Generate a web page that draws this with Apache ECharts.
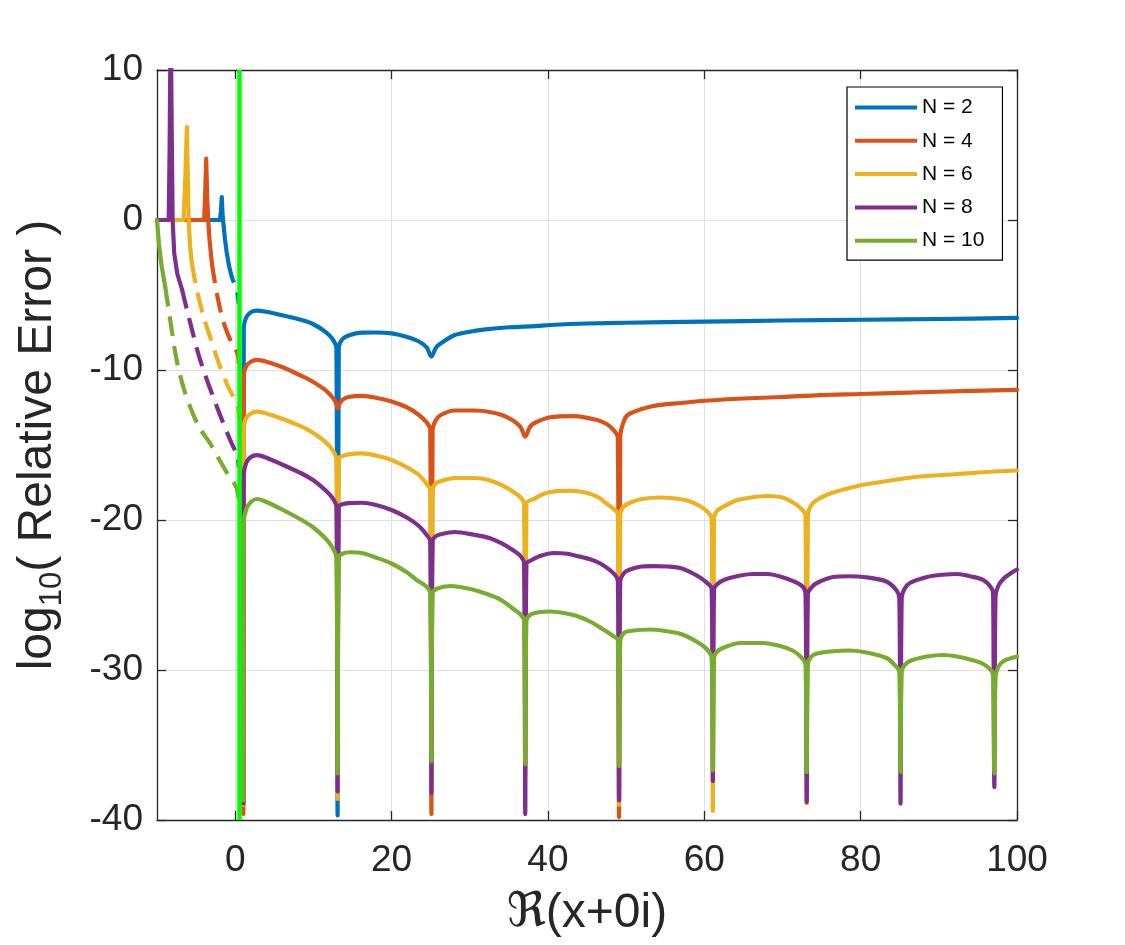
<!DOCTYPE html>
<html><head><meta charset="utf-8">
<script src="https://cdn.jsdelivr.net/npm/echarts@6/dist/echarts.min.js"></script>
<style>html,body{margin:0;padding:0;background:#fff}#c{width:1125px;height:945px}</style>
</head><body><div id="c"></div>
<script>
const seriesNames = ['N = 2', 'N = 4', 'N = 6', 'N = 8', 'N = 10'];
const seriesColors = ['#0072BD', '#D95319', '#EDB120', '#7E2F8E', '#77AC30'];
const xTickValues = [0, 20, 40, 60, 80, 100];
const xMin = -10, xMax = 100, yMin = -40, yMax = 10, yStep = 10;
const xlinePos = 0.55;

// N = 2
const n2Head = [[-10,0],[-1.95,0],[-1.82,0.6],[-1.71,1.53],[-1.62,0.4],[-1.55,0],[-1.3,-1.3],[-1.1,-2.1],[-0.85,-2.89]];
const n2Dash = [[-0.85,-2.89],[-0.43,-3.8],[0.0,-4.4],[0.3,-4.9],[0.45,-5.6]];
const n2Tail = [[1.05,-39.0],[1.1,-7.2],[1.4,-6.5],[2.0,-6.15],[2.8,-6.04],[4.0,-6.12],[6.0,-6.35],[8.5,-6.67],[10.0,-6.95],[11.5,-7.44],[12.4,-7.9],[12.95,-8.5],[13.1,-39.7],[13.25,-8.5],[13.7,-7.95],[14.5,-7.7],[16.2,-7.51],[18.0,-7.5],[20.0,-7.56],[22.0,-7.8],[23.5,-8.1],[24.5,-8.5],[25.1,-9.1],[25.7,-8.5],[26.5,-8.15],[28.1,-7.67],[30.0,-7.45],[32.0,-7.29],[35.0,-7.15],[38.4,-7.07],[40.3,-7.0],[45,-6.9],[50,-6.85],[60.1,-6.78],[70,-6.7],[80,-6.65],[90,-6.6],[100,-6.53]];

// N = 4
const n4Head = [[-10,0],[-3.97,0],[-3.85,1.5],[-3.71,4.1],[-3.58,1.5],[-3.45,0],[-3.28,-1.33],[-2.98,-2.89]];
const n4Dash = [[-2.98,-2.89],[-2.35,-4.89],[-1.5,-6.8],[-0.43,-8.22],[0.3,-8.9],[0.45,-9.6]];
const n4Tail = [[1.05,-39.6],[1.1,-10.4],[1.4,-9.75],[2.0,-9.45],[2.8,-9.33],[4.0,-9.45],[6.0,-9.8],[8.5,-10.4],[10.0,-10.8],[11.5,-11.33],[12.4,-11.8],[12.9,-12.2],[13.1,-12.55],[13.4,-12.2],[13.8,-11.95],[14.5,-11.8],[16.2,-11.73],[18,-11.85],[20,-12.1],[22,-12.5],[23.5,-13.0],[24.5,-13.5],[24.95,-14.0],[25.1,-39.6],[25.25,-14.0],[25.6,-13.4],[26.3,-13.0],[28.1,-12.7],[30.7,-12.7],[32.5,-12.8],[34.1,-13.0],[35.5,-13.35],[36.5,-13.8],[37.1,-14.44],[37.7,-13.8],[38.4,-13.5],[40.3,-13.15],[43.3,-13.07],[46.3,-13.33],[47.5,-13.6],[48.4,-14.0],[48.95,-14.5],[49.1,-39.8],[49.25,-14.5],[49.8,-13.3],[50.5,-12.9],[53.5,-12.4],[57,-12.2],[60.1,-12.05],[65,-11.9],[70,-11.8],[74.8,-11.67],[80,-11.6],[90,-11.45],[100,-11.33]];

// N = 6
const n6Head = [[-10,0],[-6.6,0],[-6.4,2.5],[-6.18,6.2],[-6.05,2.5],[-5.95,0],[-5.76,-1.78],[-5.54,-2.89]];
const n6Dash = [[-5.54,-2.89],[-4.9,-4.67],[-4.05,-6.44],[-3.2,-7.8],[-2.2,-9.4],[-1.0,-11.0],[0.3,-12.4],[0.45,-13.2]];
const n6Tail = [[1.05,-39.0],[1.1,-13.9],[1.4,-13.2],[2.0,-12.9],[2.8,-12.78],[4.0,-12.9],[6.0,-13.25],[8.5,-13.78],[10.0,-14.2],[11.5,-14.78],[12.4,-15.3],[12.95,-15.9],[13.1,-38.6],[13.25,-15.9],[13.7,-15.75],[14.5,-15.62],[16.2,-15.56],[18,-15.7],[20,-16.0],[22,-16.5],[23.5,-17.0],[24.5,-17.6],[24.95,-18.0],[25.1,-37.5],[25.25,-18.0],[25.6,-17.6],[26.3,-17.4],[28.1,-17.2],[30.7,-17.2],[32.5,-17.35],[34.1,-17.67],[35.5,-18.1],[36.5,-18.5],[36.95,-18.9],[37.1,-37.0],[37.25,-18.9],[38.2,-18.6],[39.5,-18.25],[41.1,-18.07],[43,-18.05],[45,-18.2],[46.5,-18.5],[47.5,-18.9],[48.5,-19.3],[48.95,-19.6],[49.1,-39.0],[49.25,-19.6],[49.7,-19.1],[50.5,-18.85],[52,-18.6],[54.4,-18.5],[56,-18.55],[57.8,-18.7],[59.2,-19.0],[60.3,-19.4],[60.95,-19.9],[61.1,-39.4],[61.25,-19.9],[61.6,-19.4],[62.5,-19.1],[64.1,-18.7],[66,-18.5],[68,-18.4],[70,-18.5],[71.4,-18.85],[72.5,-19.3],[72.95,-19.7],[73.1,-38.9],[73.25,-19.7],[73.7,-19.0],[74.4,-18.67],[76,-18.25],[78,-17.95],[80.2,-17.67],[84,-17.35],[87.6,-17.1],[92,-16.95],[96,-16.8],[100,-16.7]];

// N = 8
const n8Head = [[-10,0],[-8.5,0],[-8.38,5],[-8.25,14],[-8.1,5],[-8.0,0],[-7.8,-2.2],[-7.4,-3.6],[-6.82,-4.6]];
const n8Dash = [[-6.82,-4.6],[-5.97,-6.4],[-4.48,-9.33],[-2.35,-12.44],[-0.64,-14.67],[0.3,-15.78],[0.45,-16.5]];
const n8Tail = [[1.05,-38.9],[1.1,-17.0],[1.4,-16.2],[2.0,-15.8],[2.8,-15.67],[4.0,-15.85],[6.0,-16.3],[8.5,-16.9],[10.0,-17.35],[11.5,-18.0],[12.4,-18.5],[12.95,-19.1],[13.1,-38.1],[13.25,-19.1],[13.7,-18.95],[14.5,-18.88],[16.2,-18.85],[18,-19.0],[20,-19.33],[22,-19.85],[23.5,-20.4],[24.5,-21.0],[24.95,-21.4],[25.1,-38.2],[25.25,-21.4],[25.6,-21.1],[26.3,-20.95],[28.1,-20.8],[30.7,-21.0],[32.5,-21.2],[34.1,-21.56],[35.5,-22.0],[36.5,-22.4],[36.95,-22.9],[37.1,-39.6],[37.25,-22.9],[37.8,-22.7],[39,-22.4],[40.7,-22.2],[42.5,-22.25],[43.7,-22.4],[45.3,-22.6],[46.7,-22.9],[48.4,-23.56],[48.95,-24.1],[49.1,-38.7],[49.25,-24.1],[49.8,-23.5],[50.5,-23.3],[52,-23.1],[53.5,-23.07],[55.3,-23.1],[56.9,-23.2],[58.5,-23.55],[59.9,-24.0],[60.95,-24.6],[61.1,-37.4],[61.25,-24.6],[61.6,-24.3],[62.5,-24.0],[64.6,-23.7],[66.3,-23.6],[68,-23.6],[70.5,-23.9],[72.5,-24.4],[72.95,-24.9],[73.1,-38.8],[73.25,-24.9],[73.7,-24.5],[74.4,-24.2],[76.5,-23.8],[78.5,-23.75],[80.4,-23.8],[83.3,-24.1],[84.6,-24.7],[84.95,-25.2],[85.1,-38.9],[85.25,-25.2],[85.6,-24.6],[86.3,-24.2],[88.5,-23.8],[90.5,-23.65],[92.3,-23.6],[94,-23.75],[95.7,-24.0],[96.8,-24.6],[96.95,-25.1],[97.1,-37.8],[97.25,-25.1],[97.6,-24.4],[98.3,-23.9],[99.2,-23.55],[100,-23.3]];

// N = 10
const n10Head = [[-10,0],[-9.75,-1.6],[-9.4,-3.1],[-8.95,-4.44]];
const n10Dash = [[-8.95,-4.44],[-8.31,-6.67],[-7.5,-9.3],[-6.6,-11.2],[-5.5,-12.8],[-4.5,-13.9],[-3.2,-14.9],[-2.0,-16.0],[-1.0,-16.9],[0.13,-17.8],[0.45,-18.6]];
const n10Tail = [[1.05,-38.7],[1.1,-20.2],[1.4,-19.3],[2.0,-18.8],[2.8,-18.6],[4.0,-18.8],[6.0,-19.3],[8.5,-20.0],[10.0,-20.5],[11.5,-21.2],[12.4,-21.8],[12.95,-22.5],[13.1,-36.9],[13.25,-22.5],[13.7,-22.25],[14.7,-22.15],[16.2,-22.2],[18,-22.5],[20,-22.9],[22,-23.5],[23.2,-24.0],[24.5,-24.45],[24.95,-24.9],[25.1,-36.1],[25.25,-24.9],[25.7,-24.6],[27.5,-24.4],[30.1,-24.6],[32,-24.9],[33.9,-25.3],[35.5,-25.9],[36.5,-26.3],[36.95,-26.7],[37.1,-36.3],[37.25,-26.7],[37.8,-26.3],[38.8,-26.15],[40.3,-26.1],[42,-26.2],[43.7,-26.4],[45.5,-26.8],[47.1,-27.3],[48.4,-27.75],[48.95,-28.0],[49.1,-36.4],[49.25,-28.0],[49.8,-27.5],[50.5,-27.4],[53.1,-27.3],[55,-27.4],[57,-27.6],[59,-28.1],[60.3,-28.6],[60.95,-29.2],[61.1,-36.7],[61.25,-29.2],[61.6,-28.8],[62.5,-28.5],[64.6,-28.2],[67.5,-28.2],[69.7,-28.4],[71.3,-28.7],[72.3,-29.1],[72.95,-29.6],[73.1,-36.8],[73.25,-29.6],[73.7,-29.1],[74.4,-28.9],[76.5,-28.75],[78.5,-28.7],[80.4,-28.8],[83.3,-29.2],[84.6,-29.8],[84.95,-30.1],[85.1,-36.8],[85.25,-30.1],[85.6,-29.7],[86.3,-29.4],[88.5,-29.1],[90.5,-29.0],[92.3,-29.1],[94,-29.3],[95.7,-29.6],[96.8,-30.1],[96.95,-30.5],[97.1,-36.9],[97.25,-30.5],[97.6,-29.8],[98.3,-29.4],[100,-29.1]];

const heads = [n2Head, n4Head, n6Head, n8Head, n10Head];
const dashes = [n2Dash, n4Dash, n6Dash, n8Dash, n10Dash];
const tails = [n2Tail, n4Tail, n6Tail, n8Tail, n10Tail];

const FONT = 'Liberation Sans, Arial, Helvetica, sans-serif';
const AX = '#262626';
const LW = 4.2;

const series = [];
seriesNames.forEach((nm, i) => {
  const c = seriesColors[i];
  const base = {type: 'line', name: nm, showSymbol: false, symbol: 'none', animation: false, silent: true,
    itemStyle: {color: c}, clip: true};
  series.push(Object.assign({}, base, {data: heads[i], lineStyle: {color: c, width: LW, cap: 'round', join: 'round'}}));
  series.push(Object.assign({}, base, {data: dashes[i], smooth: 0.3, lineStyle: {color: c, width: LW, type: [20, 10], cap: 'butt', join: 'round'}}));
  series.push(Object.assign({}, base, {data: tails[i], smooth: 0.3, lineStyle: {color: c, width: LW, cap: 'round', join: 'round'}}));
});
series.push({type: 'line', name: 'xline', showSymbol: false, symbol: 'none', animation: false, silent: true,
  data: [[xlinePos, yMax], [xlinePos, yMin]], itemStyle: {color: '#00FF00'},
  lineStyle: {color: '#00FF00', width: 4.5}});

const tickCommon = {inside: true, length: 9, lineStyle: {color: AX, width: 1.3}};
const option = {
  backgroundColor: '#fff',
  animation: false,
  grid: {left: 157, right: 108, top: 70, bottom: 125},
  legend: {
    data: seriesNames, orient: 'vertical', left: 847, top: 87,
    padding: [10, 18, 9, 8], itemGap: 12.3, itemWidth: 62, itemHeight: 4, icon: 'rect',
    borderColor: '#000', borderWidth: 1.2, backgroundColor: '#fff', selectedMode: false,
    textStyle: {fontSize: 21, color: '#000', fontFamily: FONT, lineHeight: 20}
  },
  xAxis: [{
    type: 'value', min: xMin, max: xMax, position: 'bottom',
    axisLine: {onZero: false, lineStyle: {color: AX, width: 1.3}},
    axisTick: Object.assign({customValues: xTickValues}, tickCommon),
    axisLabel: {customValues: xTickValues, fontSize: 37, color: AX, fontFamily: FONT, margin: 22},
    splitLine: {show: true, lineStyle: {color: '#dfdfdf', width: 1}},
    name: '{r|ℜ}{a|(x+0i)}', nameLocation: 'middle', nameGap: 70,
    nameTextStyle: {rich: {
      r: {fontSize: 48, fontFamily: 'DejaVu Serif, DejaVu Sans, serif', color: AX},
      a: {fontSize: 48, fontFamily: FONT, color: AX}
    }}
  }, {
    type: 'value', min: xMin, max: xMax, position: 'top',
    axisLine: {onZero: false, lineStyle: {color: AX, width: 1.3}},
    axisTick: Object.assign({customValues: xTickValues}, tickCommon),
    axisLabel: {show: false}, splitLine: {show: false}
  }],
  yAxis: [{
    type: 'value', min: yMin, max: yMax, interval: yStep, position: 'left',
    axisLine: {onZero: false, lineStyle: {color: AX, width: 1.3}},
    axisTick: tickCommon,
    axisLabel: {fontSize: 37, color: AX, fontFamily: FONT, margin: 14},
    splitLine: {show: true, lineStyle: {color: '#dfdfdf', width: 1}},
    name: '{a|log}{b|10}{a|( Relative Error )}', nameLocation: 'middle', nameGap: 89, nameRotate: 90,
    nameTextStyle: {rich: {
      a: {fontSize: 48, fontFamily: FONT, color: AX, lineHeight: 60, verticalAlign: 'middle'},
      b: {fontSize: 31, fontFamily: FONT, color: AX, lineHeight: 31, verticalAlign: 'bottom'}
    }}
  }, {
    type: 'value', min: yMin, max: yMax, interval: yStep, position: 'right',
    axisLine: {onZero: false, lineStyle: {color: AX, width: 1.3}},
    axisTick: tickCommon, axisLabel: {show: false}, splitLine: {show: false}
  }],
  series: series
};
const chart = echarts.init(document.getElementById('c'), null, {renderer: 'canvas'});
chart.setOption(option);
</script></body></html>
